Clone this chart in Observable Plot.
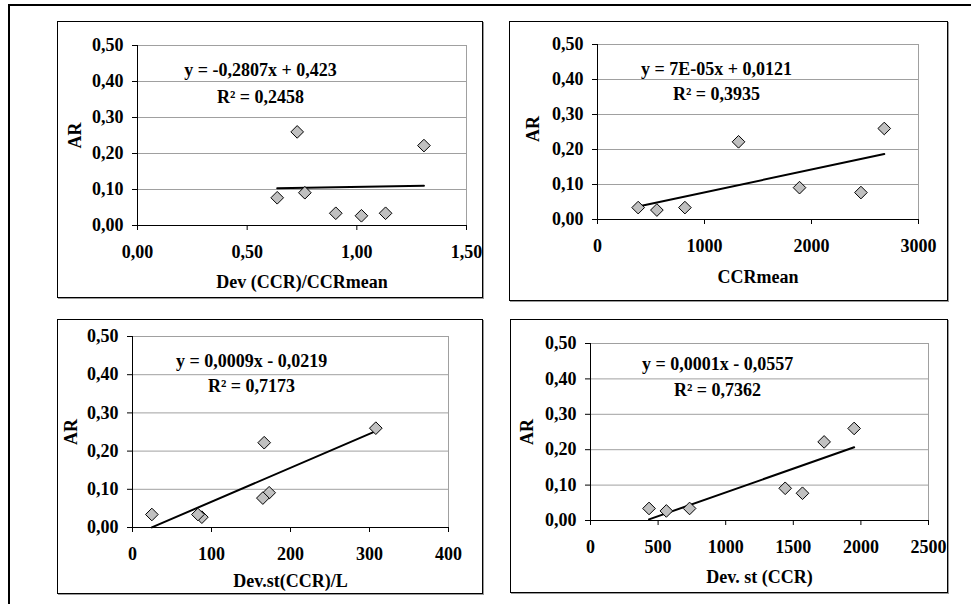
<!DOCTYPE html>
<html>
<head>
<meta charset="utf-8">
<script src="https://cdn.jsdelivr.net/npm/d3@7"></script>
<script src="https://cdn.jsdelivr.net/npm/@observablehq/plot@0.6"></script>
<style>
  html, body { margin: 0; padding: 0; background: #fff; }
  #root { position: relative; width: 971px; height: 604px; overflow: hidden; background: #fff; }
  .outer { position: absolute; left: 8px; top: 4px; width: 1000px; height: 700px;
           border-top: 2px solid #000; border-left: 2px solid #000; box-sizing: border-box; }
  .panel-border { position: absolute; border: 1.5px solid #000; box-sizing: border-box;
                  box-shadow: 1px 1px 0 #9a9a9a; pointer-events: none; }
  svg { position: absolute; }
</style>
</head>
<body>
<div id="root"><div class="outer"></div></div>
<script>
// ---- data ----
const AR          = [0.260, 0.222, 0.091, 0.077, 0.034, 0.027, 0.034];
const devRatio    = [0.728, 1.306, 0.763, 0.637, 0.904, 1.021, 1.131];  // Dev (CCR)/CCRmean
const ccrMean     = [2680, 1318, 1888, 2462, 380, 555, 817];            // CCRmean
const devStL      = [308, 166.7, 173, 165, 24.5, 87.8, 82.8];           // Dev.st(CCR)/L
const devSt       = [1950, 1728, 1440, 1568, 433, 561, 733];            // Dev. st (CCR)

const yTicks      = [0, 0.1, 0.2, 0.3, 0.4, 0.5];
const xTicks1     = [0, 0.5, 1.0, 1.5];
const xTicks2     = [0, 1000, 2000, 3000];
const xTicks3     = [0, 100, 200, 300, 400];
const xTicks4     = [0, 500, 1000, 1500, 2000, 2500];

const xTitles     = ["Dev (CCR)/CCRmean", "CCRmean", "Dev.st(CCR)/L", "Dev. st (CCR)"];
const yTitle      = "AR";
const equations   = ["y = -0,2807x + 0,423", "y = 7E-05x + 0,0121", "y = 0,0009x - 0,0219", "y = 0,0001x - 0,0557"];
const r2Labels    = ["R² = 0,2458", "R² = 0,3935", "R² = 0,7173", "R² = 0,7362"];

// ---- layout ----
const panels = [
  {xs: devRatio, ticks: xTicks1, dec: true,  left: 57,  top: 21,  w: 426, h: 277, mL: 80, mR: 17, mT: 24, mB: 73, eqDx: 123, eqDy: 25, r2Dy: 52, xtDy: 57, ytDx: -62, ytDy: 0},
  {xs: ccrMean,  ticks: xTicks2, dec: false, left: 509, top: 21,  w: 439, h: 280, mL: 88, mR: 30, mT: 23, mB: 82, eqDx: 119, eqDy: 25, r2Dy: 50, xtDy: 58, ytDx: -64, ytDy: -3},
  {xs: devStL,   ticks: xTicks3, dec: false, left: 57,  top: 319, w: 426, h: 275, mL: 75, mR: 35, mT: 17, mB: 67, eqDx: 119, eqDy: 25, r2Dy: 50, xtDy: 54, ytDx: -61, ytDy: 0},
  {xs: devSt,    ticks: xTicks4, dec: false, left: 510, top: 319, w: 438, h: 274, mL: 80, mR: 20, mT: 24, mB: 73, eqDx: 127, eqDy: 21, r2Dy: 47, xtDy: 57, ytDx: -63, ytDy: 0}
];

const comma2 = d => d.toFixed(2).replace(".", ",");
const FONT = "Liberation Serif, Times New Roman, serif";
const FS = 18;
const GRID = "#a0a0a0";
const root = document.getElementById("root");

panels.forEach((p, i) => {
  const data = AR.map((a, k) => ({x: p.xs[k], y: a}));
  const xmax = p.ticks[p.ticks.length - 1];
  const chart = Plot.plot({
    width: p.w, height: p.h,
    marginLeft: p.mL, marginRight: p.mR, marginTop: p.mT, marginBottom: p.mB,
    style: {fontFamily: FONT, fontSize: FS + "px", fontWeight: "bold", color: "#000", background: "transparent", overflow: "visible"},
    x: {domain: [0, xmax]},
    y: {domain: [0, 0.5]},
    marks: [
      Plot.gridY(yTicks, {stroke: GRID, strokeOpacity: 1, strokeWidth: 1}),
      Plot.ruleX([xmax], {stroke: GRID, strokeWidth: 1}),
      Plot.ruleX([0], {stroke: "#000", strokeWidth: 1}),
      Plot.ruleY([0], {stroke: "#000", strokeWidth: 1}),
      Plot.axisY(yTicks, {tickFormat: comma2, tickSize: 5, tickPadding: 9, label: null, fontSize: FS, fontWeight: "bold"}),
      Plot.axisX(p.ticks, {tickFormat: p.dec ? comma2 : (d => String(d)), tickSize: 5, tickPadding: 15, label: null, fontSize: FS, fontWeight: "bold"}),
      Plot.linearRegressionY(data, {x: "x", y: "y", ci: 0, stroke: "#000", strokeWidth: 2}),
      Plot.dot(data, {x: "x", y: "y", symbol: "diamond2", r: 5.7, fill: "#c0c0c0", stroke: "#000", strokeWidth: 1}),
      Plot.text([equations[i]], {frameAnchor: "top-left", dx: p.eqDx, dy: p.eqDy, textAnchor: "middle", lineAnchor: "middle", fontSize: FS, fontWeight: "bold", fill: "#000"}),
      Plot.text([r2Labels[i]], {frameAnchor: "top-left", dx: p.eqDx, dy: p.r2Dy, textAnchor: "middle", lineAnchor: "middle", fontSize: FS, fontWeight: "bold", fill: "#000"}),
      Plot.text([xTitles[i]], {frameAnchor: "bottom", dy: p.xtDy, textAnchor: "middle", lineAnchor: "middle", fontSize: FS, fontWeight: "bold", fill: "#000"}),
      Plot.text([yTitle], {frameAnchor: "left", dx: p.ytDx, dy: p.ytDy, rotate: -90, textAnchor: "middle", lineAnchor: "middle", fontSize: FS, fontWeight: "bold", fill: "#000"})
    ]
  });
  chart.style.left = p.left + "px";
  chart.style.top = p.top + "px";
  root.appendChild(chart);
  const b = document.createElement("div");
  b.className = "panel-border";
  b.style.left = p.left + "px";
  b.style.top = p.top + "px";
  b.style.width = p.w + "px";
  b.style.height = p.h + "px";
  root.appendChild(b);
});
</script>
</body>
</html>
